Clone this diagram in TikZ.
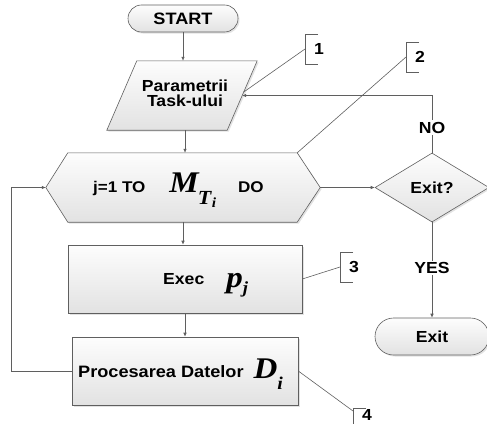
\documentclass[tikz,border=0pt]{standalone}
\usepackage{amssymb}
\usepackage{amsmath}
\usepackage{xcolor}
\usepackage{fontspec}
\setmainfont{Liberation Sans}[FakeStretch=1.1]
\newfontfamily\varfont{Liberation Serif}[FakeStretch=1.1]
\usepackage{tikz}
\usetikzlibrary{shapes.geometric,shapes.misc,shadows,arrows.meta,calc}

\definecolor{linegray}{RGB}{95,95,95}
\definecolor{boxtop}{RGB}{253,253,253}
\definecolor{boxbot}{RGB}{226,226,226}

\newcommand{\bigvar}[2]{{\varfont\bfseries\itshape\fontsize{#1}{#1}\selectfont #2}}

\begin{document}
\begin{tikzpicture}[x=1pt,y=-1pt,
        every node/.style={font=\bfseries\fontsize{16}{16}\selectfont},
        box/.style={draw=linegray, line width=0.6pt, top color=boxtop, bottom color=boxbot,
            drop shadow={shadow xshift=1.5pt, shadow yshift=-1.5pt, fill=gray!45}},
        term/.style={box, rounded rectangle, inner sep=0pt},
        arr/.style={draw=linegray, line width=0.6pt, -{Latex[length=4pt,width=3.5pt]}},
        lead/.style={draw=linegray, line width=0.6pt},
        lab/.style={fill=white, inner sep=1.5pt},
        num/.style={anchor=west, inner xsep=9pt, inner ysep=0pt, minimum height=30pt}]
            \clip (0,0) rectangle (487,423);

            % shapes
            \node[term, minimum width=110pt, minimum height=27pt, font=\bfseries\fontsize{16.5}{16}\selectfont] (start) at (183,18.5) {START};

            \node[minimum width=150pt, minimum height=69pt, inner sep=0pt] (par) at (182,95.5) {};
            \path[box] ([xshift=30pt]par.north west) -- (par.north east)
                -- ([xshift=-30pt]par.south east) -- (par.south west) -- cycle;
            \node[align=center, font=\bfseries\fontsize{16}{15.5}\selectfont] (partxt) at (185,93.5) {Parametrii\\Task-ului};

            \node[minimum width=274pt, minimum height=69pt, inner sep=0pt] (hex) at (183,187.5) {};
            \path[box] (hex.west) -- ([xshift=22pt]hex.north west) -- ([xshift=-23pt]hex.north east)
                -- (hex.east) -- ([xshift=-23pt]hex.south east) -- ([xshift=22pt]hex.south west) -- cycle;
            \node[anchor=base west, inner sep=0pt, font=\bfseries\fontsize{15.5}{15.5}\selectfont] (hextxt) at (93,192.5)
                {j=1 TO\hspace{24pt}\bigvar{30}{M}\hspace{-1pt}\raisebox{-12pt}{\bigvar{20}{T}}\hspace{0.5pt}\raisebox{-15pt}{\bigvar{14}{i}}\hspace{22pt}DO};

            \node[box, minimum width=234pt, minimum height=68pt, inner sep=0pt] (exec) at (185,279) {};
            \node[anchor=base west, inner sep=0pt] (exectxt) at (163,284)
                {Exec\hspace{22pt}\raisebox{-3pt}{\bigvar{30}{p}}\raisebox{-9pt}{\bigvar{17}{j}}};

            \node[box, minimum width=226pt, minimum height=68pt, inner sep=0pt] (proc) at (185,371) {};
            \node[anchor=base west, inner sep=0pt, font=\bfseries\fontsize{16.5}{16}\selectfont] (proctxt) at (78,377)
                {Procesarea Datelor\hspace{10pt}\raisebox{-1pt}{\bigvar{30}{D}}\raisebox{-12pt}{\bigvar{18}{i}}};

            \node[box, diamond, minimum width=114pt, minimum height=69pt, inner sep=0pt] (dec) at (432,187.5) {Exit?};
            \node[term, minimum width=114pt, minimum height=37pt] (stop) at (432,336.5) {Exit};

            % flow
            \coordinate (parin) at ($(par.north east)!0.5!([xshift=-30pt]par.south east)$);
            \coordinate (parc) at ($(par.north east)!0.45!([xshift=-30pt]par.south east)$);
            \draw[arr] (start.south) -- (start.south |- par.north);
            \draw[arr] (partxt.south |- par.south) -- (partxt.south |- hex.north);
            \draw[arr] (hex.south) -- (hex.south |- exec.north);
            \draw[arr] (exec.south) -- (proc.north);
            \draw[arr] (hex.east) -- (dec.west);
            \draw[arr] (proc.west) -- ++(-60,0) |- (hex.west);
            \draw[arr] (dec.north) -- node[lab, pos=0.44] {NO} (dec.north |- parin) -- (parin);
            \draw[arr] (dec.south) -- node[lab, pos=0.48] {YES} (stop.north);

            % callouts
            \node[num] (n1) at (305,49) {1};
            \node[num] (n2) at (406,57) {2};
            \node[num] (n3) at (340,267) {3};
            \node[num, anchor=north west, minimum height=14pt] (n4) at (353,408) {4};
            \foreach \n in {n1,n2,n3}
                \draw[lead] ([xshift=13pt]\n.north west) -- (\n.north west) -- (\n.south west) -- ([xshift=13pt]\n.south west);
            \draw[lead] ([xshift=13pt]n4.north west) -- (n4.north west) -- ++(0,20);
            \draw[lead] (parc) -- (n1.west);
            \draw[lead] ([xshift=-23pt]hex.north east) -- (n2.west);
            \draw[lead] (exec.east) -- (n3.west);
            \draw[lead] (proc.east) -- ([yshift=-3pt]n4.north west);
        \end{tikzpicture}
\end{document}
